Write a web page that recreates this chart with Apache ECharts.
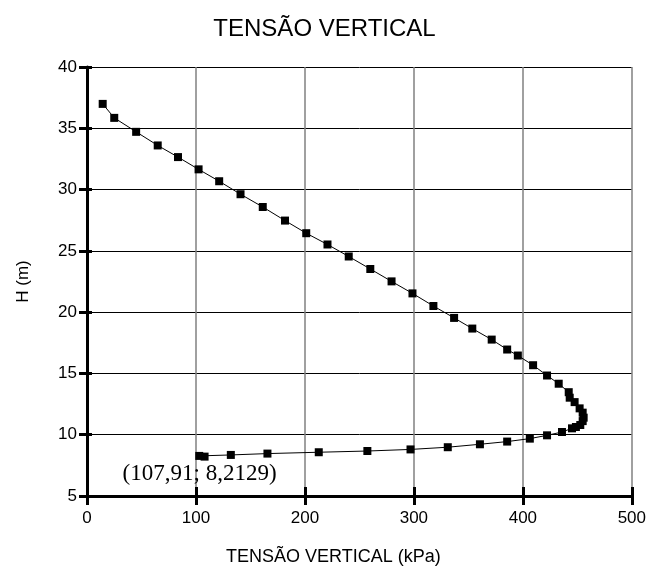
<!DOCTYPE html>
<html>
<head>
<meta charset="utf-8">
<script src="https://cdn.jsdelivr.net/npm/echarts@6/dist/echarts.min.js"></script>
<style>html,body{margin:0;padding:0;background:#fff;}#chart{width:649px;height:572px;}</style>
</head>
<body>
<div id="chart"></div>
<script>
// Data
const tensao = [14.4, 25.0, 45.1, 64.9, 83.5, 102.4, 121.3, 140.9, 161.3, 181.7,
  201.2, 220.7, 240.2, 260.0, 279.5, 298.7, 317.9, 336.9, 353.6, 371.4,
  385.6, 395.4, 409.4, 422.2, 432.9, 442.1, 443.0, 447.5, 452.1, 454.9,
  455.8, 454.9, 452.7, 448.7, 445.1, 435.9, 422.2, 406.4, 385.6, 360.6,
  331.1, 296.9, 257.3, 212.7, 165.6, 132.0, 103.0, 107.91];
const altura = [36.99, 35.85, 34.71, 33.60, 32.65, 31.65, 30.68, 29.62, 28.58, 27.47,
  26.44, 25.52, 24.54, 23.52, 22.51, 21.53, 20.50, 19.53, 18.66, 17.76,
  16.95, 16.46, 15.67, 14.83, 14.16, 13.47, 13.02, 12.66, 12.15, 11.80,
  11.39, 11.11, 10.79, 10.63, 10.52, 10.22, 9.95, 9.68, 9.44, 9.22,
  8.98, 8.80, 8.67, 8.57, 8.46, 8.35, 8.27, 8.2129];
const annotationIndex = 47;
const annotationText = '(107,91; 8,2129)';
const xTicks = [0, 100, 200, 300, 400, 500];
const yTicks = [5, 10, 15, 20, 25, 30, 35, 40];
const titleText = 'TENSÃO VERTICAL';
const xName = 'TENSÃO VERTICAL (kPa)';
const yName = 'H (m)';

const chart = echarts.init(document.getElementById('chart'), null, {renderer: 'canvas'});
const sans = "'Liberation Sans', Arial, sans-serif";

const data = tensao.map((x, i) => {
  const item = {value: [x, altura[i]]};
  if (i === annotationIndex) {
    item.label = {
      show: true,
      formatter: annotationText,
      position: 'inside',
      offset: [-5, 17],
      fontFamily: "'Liberation Serif', 'Times New Roman', serif",
      fontSize: 23,
      color: '#000'
    };
  }
  return item;
});

const xMin = xTicks[0], xMax = xTicks[xTicks.length - 1], xInt = xTicks[1] - xTicks[0];
const yMin = yTicks[0], yMax = yTicks[yTicks.length - 1], yInt = yTicks[1] - yTicks[0];

chart.setOption({
  animation: false,
  backgroundColor: '#fff',
  title: {
    text: titleText,
    left: 'center',
    top: 12,
    textStyle: {fontFamily: sans, fontSize: 24, fontWeight: 'normal', color: '#000'}
  },
  grid: {left: 87, right: 16, top: 67, bottom: 76, containLabel: false},
  xAxis: [{
    type: 'value', min: xMin, max: xMax, interval: xInt, position: 'bottom',
    name: xName, nameLocation: 'middle', nameGap: 52,
    nameTextStyle: {fontFamily: sans, fontSize: 18, color: '#000', padding: [0, 52, 0, 0]},
    axisLine: {show: true, lineStyle: {color: '#000', width: 3}},
    axisTick: {show: true, inside: false, length: 9, lineStyle: {color: '#000', width: 3}},
    axisLabel: {fontFamily: sans, fontSize: 17, color: '#000', margin: 14},
    splitLine: {show: true, lineStyle: {color: '#808080', width: 1.5}}
  }, {
    type: 'value', min: xMin, max: xMax, interval: xInt, position: 'bottom',
    axisLine: {show: false},
    axisTick: {show: true, inside: true, length: 9, lineStyle: {color: '#000', width: 3}},
    axisLabel: {show: false},
    splitLine: {show: false}
  }],
  yAxis: [{
    type: 'value', min: yMin, max: yMax, interval: yInt, position: 'left',
    name: yName, nameLocation: 'middle', nameGap: 55, nameRotate: 90,
    nameTextStyle: {fontFamily: sans, fontSize: 17, color: '#000'},
    axisLine: {show: true, lineStyle: {color: '#000', width: 3}},
    axisTick: {show: true, inside: false, length: 8, lineStyle: {color: '#000', width: 3}},
    axisLabel: {fontFamily: sans, fontSize: 17, color: '#000', margin: 10},
    splitLine: {show: true, lineStyle: {color: '#000', width: 1}}
  }, {
    type: 'value', min: yMin, max: yMax, interval: yInt, position: 'left',
    axisLine: {show: false},
    axisTick: {show: true, inside: true, length: 5, lineStyle: {color: '#000', width: 3}},
    axisLabel: {show: false},
    splitLine: {show: false}
  }],
  series: [{
    type: 'line',
    xAxisIndex: 0, yAxisIndex: 0,
    data: data,
    symbol: 'rect',
    symbolSize: 8,
    itemStyle: {color: '#000'},
    lineStyle: {color: '#000', width: 1},
    z: 3
  }]
});
</script>
</body>
</html>
